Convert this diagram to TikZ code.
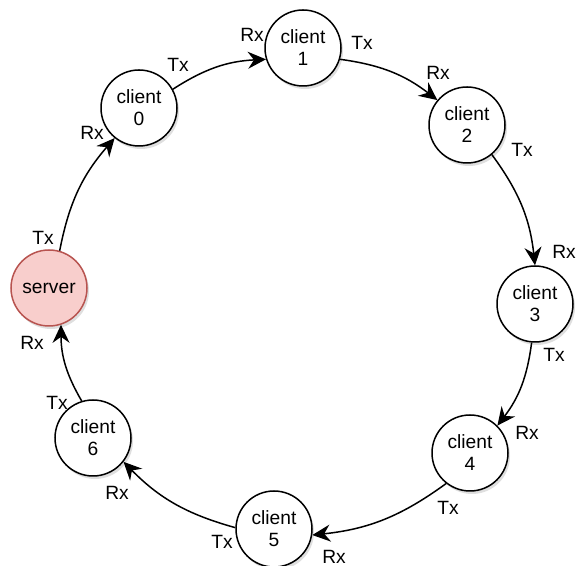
\documentclass[tikz,border=0pt]{standalone}
\usepackage{fontspec}
\setmainfont{Liberation Sans}
\usetikzlibrary{arrows.meta,shadows}
\definecolor{srvfill}{HTML}{F8CECC}
\definecolor{srvline}{HTML}{B85450}

\begin{document}
\begin{tikzpicture}[x=0.5pt,y=0.5pt,
   font=\fontsize{9.6}{11}\selectfont,
   every node/.style={align=center},
   clientnode/.style={circle,draw,line width=0.75pt,fill=white,
      minimum size=38pt,inner sep=0pt,
      drop shadow={shadow xshift=1pt,shadow yshift=-1.5pt,opacity=0.25}},
   servernode/.style={clientnode,draw=srvline,fill=srvfill},
   link/.style={-{Stealth[length=9pt,width=8.5pt,inset=3pt]},
      line width=0.75pt,bend left=15},
   port/.style={inner sep=0pt}]
\useasboundingbox (0,0) rectangle (578,566);

\node[servernode] (server) at (49,278) {server};
\node[clientnode] (c0) at (139,458) {client\\0};
\node[clientnode] (c1) at (303,518) {client\\1};
\node[clientnode] (c2) at (467,441) {client\\2};
\node[clientnode] (c3) at (535,262) {client\\3};
\node[clientnode] (c4) at (470,113) {client\\4};
\node[clientnode] (c5) at (274,37) {client\\5};
\node[clientnode] (c6) at (93,128) {client\\6};

\draw[link] (server.74) to (c0.231);
\draw[link] (c0.29) to (c1.197);
\draw[link] (c1.343) to (c2.140);
\draw[link] (c2.310) to (c3.90);
\draw[link] (c3.265) to (c4.45);
\draw[link] (c4.232) to (c5.351);
\draw[link] (c5.178) to (c6.322);
\draw[link] (c6.107) to (server.288);

\node[port] (server-tx) at (43,328) {Tx};
\node[port] (server-rx) at (32,223) {Rx};
\node[port] (c0-rx) at (92,433) {Rx};
\node[port] (c0-tx) at (178,501) {Tx};
\node[port] (c1-rx) at (252,531) {Rx};
\node[port] (c1-tx) at (362,523) {Tx};
\node[port] (c2-rx) at (438,493) {Rx};
\node[port] (c2-tx) at (522,416) {Tx};
\node[port] (c3-rx) at (564,314) {Rx};
\node[port] (c3-tx) at (554,211) {Tx};
\node[port] (c4-rx) at (527,133) {Rx};
\node[port] (c4-tx) at (448,58) {Tx};
\node[port] (c5-rx) at (334,9) {Rx};
\node[port] (c5-tx) at (222,24) {Tx};
\node[port] (c6-rx) at (117,73) {Rx};
\node[port] (c6-tx) at (57,163) {Tx};
\end{tikzpicture}
\end{document}
